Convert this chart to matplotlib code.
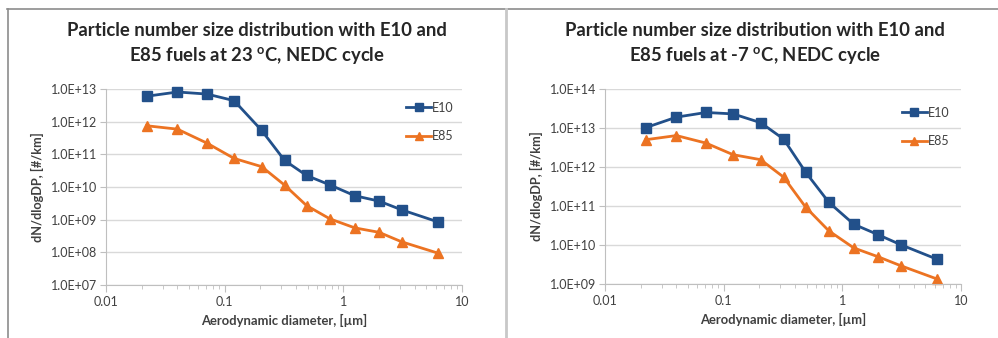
import numpy as np
import matplotlib
matplotlib.use("Agg")
import matplotlib.pyplot as plt
from matplotlib.ticker import FixedLocator, NullFormatter
from matplotlib.lines import Line2D

plt.rcParams['font.family'] = ['Lato', 'DejaVu Sans']

# aerodynamic diameters, um
diam = [0.022, 0.040, 0.071, 0.12, 0.205, 0.32, 0.49, 0.77, 1.25, 2.0, 3.1, 6.3]

# 23 C
e10_warm = [6.0e12, 8.1e12, 7.0e12, 4.4e12, 5.4e11, 6.5e10, 2.25e10, 1.16e10, 5.4e9, 3.7e9, 2.0e9, 8.5e8]
e85_warm = [7.5e11, 5.9e11, 2.2e11, 7.5e10, 4.2e10, 1.14e10, 2.7e9, 1.06e9, 5.6e8, 4.1e8, 2.1e8, 9.4e7]

# -7 C
e10_cold = [1.02e13, 1.9e13, 2.5e13, 2.3e13, 1.37e13, 5.2e12, 7.4e11, 1.24e11, 3.4e10, 1.84e10, 1.02e10, 4.3e9]
e85_cold = [5.0e12, 6.4e12, 4.1e12, 2.07e12, 1.54e12, 5.5e11, 9.4e10, 2.3e10, 8.4e9, 5.0e9, 2.95e9, 1.34e9]

titles = ["Particle number size distribution with E10 and\nE85 fuels at 23 $^{\\mathregular{o}}$C, NEDC cycle",
          "Particle number size distribution with E10 and\nE85 fuels at -7 $^{\\mathregular{o}}$C, NEDC cycle"]

blue = '#22508a'
orange = '#ec7322'
grid_c = '#d9d9d9'

W, H = 998, 338
fig = plt.figure(figsize=(W / 100, H / 100), dpi=100)


def px_axes(x0, y0, x1, y1):
    return fig.add_axes([x0 / W, 1 - y1 / H, (x1 - x0) / W, (y1 - y0) / H])


def draw(ax, e10, e85, ylo, yhi, title, cx, leg):
    ax.plot(diam, e10, color=blue, lw=2, marker='s', ms=7.5, label='E10', clip_on=False)
    ax.plot(diam, e85, color=orange, lw=2, marker='^', ms=7.5, label='E85', clip_on=False)
    ax.set_xscale('log')
    ax.set_yscale('log')
    ax.set_xlim(0.01, 10)
    ax.set_ylim(10.0 ** ylo, 10.0 ** yhi)
    ax.yaxis.set_major_locator(FixedLocator([10.0 ** k for k in range(ylo, yhi + 1)]))
    ax.yaxis.set_minor_locator(FixedLocator([]))
    ax.set_yticklabels(["1.0E+%02d" % k for k in range(ylo, yhi + 1)])
    ax.xaxis.set_major_locator(FixedLocator([0.01, 0.1, 1, 10]))
    ax.set_xticklabels(["0.01", "0.1", "1", "10"])
    minors = [m * 10.0 ** k for k in (-2, -1, 0) for m in range(2, 10)]
    ax.xaxis.set_minor_locator(FixedLocator(minors))
    ax.xaxis.set_minor_formatter(NullFormatter())
    ax.grid(axis='y', color=grid_c, lw=1)
    ax.set_axisbelow(True)
    for s in ('top', 'right'):
        ax.spines[s].set_visible(False)
    for s in ('left', 'bottom'):
        ax.spines[s].set_color('#bfbfbf')
    ax.tick_params(axis='both', which='both', colors='#bfbfbf', labelcolor='#404040', labelsize=9)
    ax.tick_params(axis='x', which='major', length=5, pad=3)
    ax.tick_params(axis='x', which='minor', length=3)
    ax.tick_params(axis='y', length=4, pad=2)
    ax.set_xlabel("Aerodynamic diameter, [\u00b5m]", fontsize=9.4, fontweight='bold', color='#404040', labelpad=4)
    ax.set_ylabel("dN/dlogDP, [#/km]", fontsize=9.2, fontweight='bold', color='#404040', labelpad=5)
    fig.text(cx / W, 1 - 44 / H, title, ha='center', va='center', fontsize=13.3,
             fontweight='bold', color='#262626', linespacing=1.4)
    ax.legend(loc='upper left', bbox_to_anchor=leg, frameon=False, fontsize=9,
              handlelength=2.0, handletextpad=0.05, labelspacing=1.3, borderaxespad=0,
              labelcolor='#404040', markerscale=0.85)


ax1 = px_axes(106, 89, 462, 285)
draw(ax1, e10_warm, e85_warm, 7, 13, titles[0], 257, (0.83, 0.96))
ax2 = px_axes(605, 89, 961, 284)
draw(ax2, e10_cold, e85_cold, 9, 14, titles[1], 755, (0.82, 0.935))

# panel frames
fig.add_artist(Line2D([7 / W, 1], [1 - 9 / H, 1 - 9 / H], color='#8c8c8c', lw=1.2))
fig.add_artist(Line2D([7.5 / W, 7.5 / W], [0, 1 - 9 / H], color='#8c8c8c', lw=1.2))
fig.add_artist(Line2D([506 / W, 506 / W], [0, 1 - 9 / H], color='#c8c8c8', lw=2))

fig.savefig("out.png", dpi=100)
